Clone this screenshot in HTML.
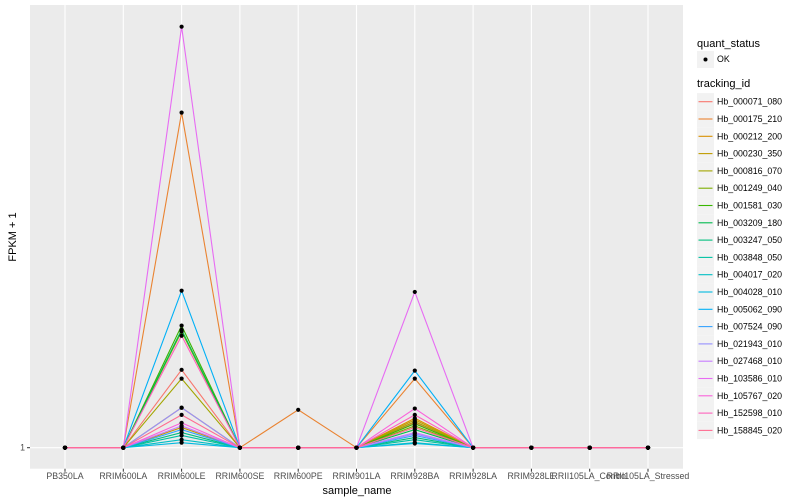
<!DOCTYPE html>
<html><head><meta charset="utf-8"><style>
body{margin:0;background:#fff;}
svg{display:block;font-family:"Liberation Sans",sans-serif;}
</style></head><body>
<svg id="chart" width="800" height="500"></svg>
<script>
const categories=["PB350LA","RRIM600LA","RRIM600LE","RRIM600SE","RRIM600PE","RRIM901LA","RRIM928BA","RRIM928LA","RRIM928LE","RRII105LA_Control","RRII105LA_Stressed"];
const seriesNames=["Hb_000071_080","Hb_000175_210","Hb_000212_200","Hb_000230_350","Hb_000816_070","Hb_001249_040","Hb_001581_030","Hb_003209_180","Hb_003247_050","Hb_003848_050","Hb_004017_020","Hb_004028_010","Hb_005062_090","Hb_007524_090","Hb_021943_010","Hb_027468_010","Hb_103586_010","Hb_105767_020","Hb_152598_010","Hb_158845_020"];
const seriesColors=["#F8766D","#EA8331","#D89000","#C09B00","#A3A500","#7CAE00","#39B600","#00BB4E","#00BF7D","#00C1A3","#00BFC4","#00BAE0","#00B0F6","#35A2FF","#9590FF","#C77CFF","#E76BF3","#FA62DB","#FF62BC","#FF6C91"];
const valuesLE=[18.5,79.6,9.5,4.8,16.4,27.6,29,28,3.6,2.9,1.9,1.2,37.3,4.3,9.5,5.2,100,5.9,26.6,7.8];
const valuesPE=[0,9,0,0,0,0,0,0,0,0,0,0,0,0,0,0,0,0,0,0];
const valuesBA=[6,16.4,7,6.6,6.2,5.2,5.7,4.3,2.4,1.9,1.2,1,18.3,2.9,3.3,3.6,37,9.3,7.8,4.8];
const yTicks=[0];
const yTickLabels=["1"];

const NS="http://www.w3.org/2000/svg";
const svg=document.getElementById('chart');
function mk(t,a,p){const e=document.createElementNS(NS,t);for(const k in a)e.setAttribute(k,a[k]);(p||svg).appendChild(e);return e;}
const PL=30,PR=683,PT=5,PB=468.7;
function x(i){return 65+i*(648-65)/(categories.length-1);}
function y(v){return 447.7-v*4.21;}

const panel=mk('rect',{x:PL,y:PT,width:PR-PL,height:PB-PT,fill:'#EBEBEB'});


categories.forEach((c,i)=>{
  const g=mk('line',{x1:x(i),x2:x(i),y1:PT,y2:PB,stroke:'#fff','stroke-width':1.1});
  
  
  mk('line',{x1:x(i),x2:x(i),y1:PB,y2:PB+3,stroke:'#333','stroke-width':1});
  const t=mk('text',{x:x(i),y:479,'text-anchor':'middle','font-size':8.8,fill:'#4D4D4D'});
  t.textContent=c;
  
  
});
yTicks.forEach((v,i)=>{
  const g=mk('line',{x1:PL,x2:PR,y1:y(v),y2:y(v),stroke:'#fff','stroke-width':1.1});
  
  
  mk('line',{x1:PL-3,x2:PL,y1:y(v),y2:y(v),stroke:'#333','stroke-width':1});
  const t=mk('text',{x:PL-5,y:y(v)+3,'text-anchor':'end','font-size':8.8,fill:'#4D4D4D'});
  t.textContent=yTickLabels[i];
  
  
});
function seriesVals(s){return categories.map((c,i)=>i===2?valuesLE[s]:i===4?valuesPE[s]:i===6?valuesBA[s]:0);}
seriesNames.forEach((n,s)=>{
  const vals=seriesVals(s);
  const p=mk('polyline',{points:vals.map((v,i)=>x(i)+','+y(v)).join(' '),fill:'none',stroke:seriesColors[s],'stroke-width':1.1});
  
  
});
seriesNames.forEach((n,s)=>{
  seriesVals(s).forEach((v,i)=>{
    const pt=mk('circle',{cx:x(i),cy:y(v),r:2.1,fill:'#000'});
    
    
  });
});
const xt=mk('text',{x:357,y:494,'text-anchor':'middle','font-size':11,fill:'#000'});
xt.textContent='sample_name';


const yt=mk('text',{x:0,y:0,'text-anchor':'middle','font-size':11,fill:'#000',transform:'translate(16,237) rotate(-90)'});
yt.textContent='FPKM + 1';



const lg=mk('g',{});


const t1=mk('text',{x:697,y:47,'font-size':11,fill:'#000'},lg);t1.textContent='quant_status';


mk('rect',{x:697,y:51,width:17,height:17,fill:'#F2F2F2'},lg);
mk('circle',{cx:705.5,cy:59.5,r:2,fill:'#000'},lg);
const ok=mk('text',{x:717,y:62,'font-size':8.8,fill:'#000'},lg);ok.textContent='OK';


const t2=mk('text',{x:697,y:87,'font-size':11,fill:'#000'},lg);t2.textContent='tracking_id';


seriesNames.forEach((n,s)=>{
  const cy=101.7+s*17.3;
  mk('rect',{x:697,y:cy-8.6,width:17,height:17.3,fill:'#F2F2F2'},lg);
  mk('line',{x1:698.5,x2:712.5,y1:cy,y2:cy,stroke:seriesColors[s],'stroke-width':1.1},lg);
  const t=mk('text',{x:717,y:cy+3,'font-size':8.8,fill:'#000'},lg);
  t.textContent=n;
  
  
});
</script>
</body></html>
